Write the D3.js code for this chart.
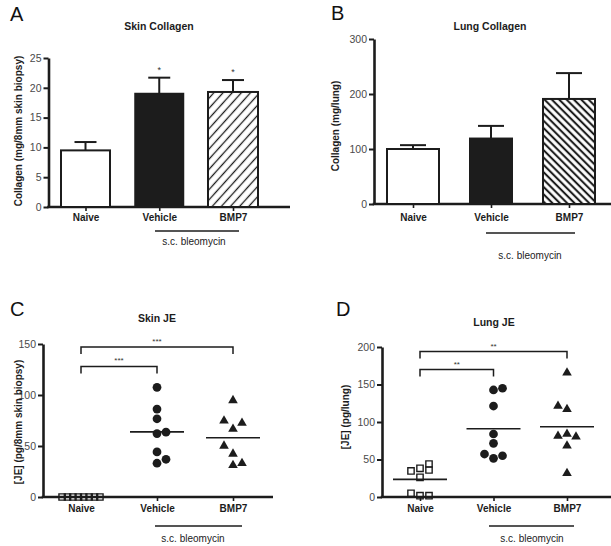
<!DOCTYPE html>
<html><head><meta charset="utf-8">
<script src="https://cdn.jsdelivr.net/npm/d3@7"></script>
<style>body{margin:0;background:#fff}svg{display:block}</style>
</head><body>
<svg id="c" width="611" height="546"></svg>
<script>
// ---------- data ----------
const groups = ["Naive", "Vehicle", "BMP7"];

const skinCollagenMean = [9.5, 19.0, 19.3];
const skinCollagenSem  = [1.4, 2.7, 2.0];
const skinCollagenSig  = ["", "*", "*"];
const skinCollagenTicks = [0, 5, 10, 15, 20, 25];

const lungCollagenMean = [100, 119, 191];
const lungCollagenSem  = [7, 23, 47];
const lungCollagenSig  = ["", "", ""];
const lungCollagenTicks = [0, 100, 200, 300];

const skinJENaive   = [0, 0, 0, 0, 0, 0, 0, 0];
const skinJEVehicle = [107.5, 86.2, 76.7, 63.6, 62.2, 44.2, 37, 33.1];
const skinJEBMP7    = [94.7, 74.7, 72.5, 66.6, 50.1, 42.3, 33.1, 31.2];
const skinJETicks   = [0, 50, 100, 150];
const skinJEBrackets = [
  {from: "Naive", to: "Vehicle", level: 128, label: "***"},
  {from: "Naive", to: "BMP7", level: 147, label: "***"}
];

const lungJENaive   = [44, 38.3, 36, 34.7, 26.3, 5, 1.7, 1.7];
const lungJEVehicle = [145, 142.7, 121.3, 84, 71.6, 57.3, 55, 51.6];
const lungJEBMP7    = [165.7, 121.3, 117, 84, 81.3, 80.4, 68.4, 31.6];
const lungJETicks   = [0, 50, 100, 150, 200];
const lungJEBrackets = [
  {from: "Naive", to: "Vehicle", level: 170, label: "**"},
  {from: "Naive", to: "BMP7", level: 194, label: "**"}
];

// swarm column of each point
const skinJENaiveSlot   = [-3.5, -2.5, -1.5, -0.5, 0.5, 1.5, 2.5, 3.5];
const skinJEVehicleSlot = [0, 0, 0, 1, 0, 0, 1, 0];
const skinJEBMP7Slot    = [0, -1, 1, 0, -1, 0, 1, 0];
const lungJENaiveSlot   = [1, 0, 1, -1, 0, -1, 0, 1];
const lungJEVehicleSlot = [1, 0, 0, 0, 0, -1, 1, 0];
const lungJEBMP7Slot    = [0, -1, 0, 0, -1, 1, 0, 0];

// ---------- drawing ----------
const svg = d3.select("#c");
const INK = "#1c1c1c";
const FONT = "'Liberation Sans', Arial, Helvetica, sans-serif";

const defs = svg.append("defs");
function hatch(id, spacing, sw, angle) {
  const p = defs.append("pattern").attr("id", id)
    .attr("patternUnits", "userSpaceOnUse")
    .attr("width", spacing).attr("height", spacing)
    .attr("patternTransform", `rotate(${angle})`);
  p.append("rect").attr("width", spacing).attr("height", spacing).attr("fill", "#fff");
  p.append("line").attr("x1", spacing / 2).attr("x2", spacing / 2)
    .attr("y1", 0).attr("y2", spacing)
    .attr("stroke", INK).attr("stroke-width", sw);
}
hatch("hatchA", 6.8, 1.3, 42);
hatch("hatchB", 5.2, 2.1, -45);

function text(g, x, y, s, opts = {}) {
  return g.append("text").attr("x", x).attr("y", y).text(s)
    .attr("font-family", FONT)
    .attr("font-size", opts.size || 10)
    .attr("font-weight", opts.weight || "normal")
    .attr("fill", opts.fill || INK)
    .attr("text-anchor", opts.anchor || "middle");
}

function frame(cfg) {
  const g = svg.append("g");
  const y = d3.scaleLinear().domain([0, d3.max(cfg.ticks)]).range([cfg.y0, cfg.y1]);
  const x = d3.scalePoint().domain(groups).range([cfg.xa, cfg.xb]);

  // y axis
  const ya = g.append("g").attr("transform", `translate(${cfg.axisX},0)`)
    .call(d3.axisLeft(y).tickValues(cfg.ticks).tickSize(5).tickSizeOuter(0).tickPadding(2).tickFormat(d3.format("d")));
  ya.select(".domain").attr("stroke", INK).attr("stroke-width", 2.6);
  ya.selectAll(".tick line").attr("stroke", INK).attr("stroke-width", 2);
  ya.selectAll(".tick text").attr("font-family", FONT).attr("font-size", 10.5).attr("fill", "#4a4a4a");

  // x axis
  const xa = g.append("g").attr("transform", `translate(0,${cfg.y0})`)
    .call(d3.axisBottom(x).tickSize(4).tickSizeOuter(0));
  xa.select(".domain").remove();
  xa.selectAll(".tick line").attr("stroke", INK).attr("stroke-width", 1.6);
  xa.selectAll(".tick text").attr("font-family", FONT).attr("font-size", 10)
    .attr("font-weight", "bold").attr("fill", INK)
    .attr("y", cfg.labelDy).attr("dy", 0);
  g.append("line").attr("x1", cfg.axisX - 1.3).attr("x2", cfg.axisEnd)
    .attr("y1", cfg.y0).attr("y2", cfg.y0).attr("stroke", INK).attr("stroke-width", 2.6);

  // titles and labels
  text(g, cfg.letterX, cfg.letterY, cfg.letter, {size: 20, anchor: "start", fill: "#111"});
  text(g, cfg.titleX, cfg.titleY, cfg.title, {size: 10.5, weight: "bold"});
  text(g, 0, 0, cfg.ylabel, {size: 10, weight: "bold"})
    .attr("transform", `translate(${cfg.ylabX},${cfg.ylabY}) rotate(-90)`);

  // bleomycin bar
  g.append("line").attr("x1", cfg.bleo[0]).attr("x2", cfg.bleo[1])
    .attr("y1", cfg.bleoY).attr("y2", cfg.bleoY).attr("stroke", INK).attr("stroke-width", 1.4);
  text(g, cfg.bleoTextX, cfg.bleoTextY, "s.c. bleomycin", {size: 10, fill: "#222"});
  return {g, x, y};
}

function barPanel(cfg) {
  const {g, x, y} = frame(cfg);
  const bars = g.append("g");
  groups.forEach((k, i) => {
    const w = cfg.widths[i], cx = x(k);
    const top = cfg.mean[i], err = cfg.mean[i] + cfg.sem[i];
    bars.append("line").attr("x1", cx).attr("x2", cx).attr("y1", y(top)).attr("y2", y(err))
      .attr("stroke", INK).attr("stroke-width", 2);
    bars.append("line").attr("x1", cx - cfg.cap / 2).attr("x2", cx + cfg.cap / 2)
      .attr("y1", y(err)).attr("y2", y(err)).attr("stroke", INK).attr("stroke-width", 2);
    bars.append("rect").attr("x", cx - w / 2).attr("y", y(top))
      .attr("width", w).attr("height", y(0) - y(top))
      .attr("fill", cfg.fills[i]).attr("stroke", INK).attr("stroke-width", 2);
    if (cfg.sig[i]) text(bars, cx, y(err) - 5, cfg.sig[i], {size: 9, fill: "#333"});
  });
}

function scatterPanel(cfg) {
  const {g, x, y} = frame(cfg);
  const series = [
    {k: "Naive", v: cfg.naive, s: cfg.naiveSlot, sym: d3.symbolSquare, size: 40, hollow: true, step: cfg.naiveStep},
    {k: "Vehicle", v: cfg.vehicle, s: cfg.vehicleSlot, sym: d3.symbolCircle, size: 60, hollow: false, step: 9},
    {k: "BMP7", v: cfg.bmp7, s: cfg.bmp7Slot, sym: d3.symbolTriangle, size: 40, hollow: false, step: 9}
  ];
  series.forEach(se => {
    const cx = x(se.k);
    const m = d3.mean(se.v);
    if (m > 0.5) {
      g.append("line").attr("x1", cx - 27).attr("x2", cx + 27)
        .attr("y1", y(m)).attr("y2", y(m)).attr("stroke", INK).attr("stroke-width", 1.6);
    }
    g.selectAll(null).data(se.v).enter().append("path")
      .attr("d", d3.symbol().type(se.sym).size(se.size))
      .attr("transform", (d, i) => `translate(${cx + se.s[i] * se.step},${y(d)})`)
      .attr("fill", se.hollow ? "none" : INK)
      .attr("stroke", INK).attr("stroke-width", se.hollow ? 1.4 : 0);
  });
  cfg.brackets.forEach(b => {
    const yy = y(b.level), x1 = x(b.from), x2 = x(b.to);
    g.append("path").attr("d", `M${x1},${yy + 7}V${yy}H${x2}V${yy + 7}`)
      .attr("fill", "none").attr("stroke", INK).attr("stroke-width", 1.5);
    text(g, (x1 + x2) / 2, yy - 3, b.label, {size: 8, fill: "#333"});
  });
}

barPanel({
  ticks: skinCollagenTicks, mean: skinCollagenMean, sem: skinCollagenSem, sig: skinCollagenSig,
  y0: 207, y1: 58, axisX: 48.5, axisEnd: 290, xa: 85.5, xb: 233, labelDy: 14,
  widths: [49, 48, 50], cap: 22, fills: ["#fff", INK, "url(#hatchA)"],
  letter: "A", letterX: 10, letterY: 21, title: "Skin Collagen", titleX: 159, titleY: 30,
  ylabel: "Collagen (mg/8mm skin biopsy)", ylabX: 22, ylabY: 131,
  bleo: [155, 239], bleoY: 231, bleoTextX: 194, bleoTextY: 245
});

barPanel({
  ticks: lungCollagenTicks, mean: lungCollagenMean, sem: lungCollagenSem, sig: lungCollagenSig,
  y0: 204, y1: 39, axisX: 374, axisEnd: 611, xa: 413, xb: 569, labelDy: 16.5,
  widths: [52, 42, 52], cap: 26, fills: ["#fff", INK, "url(#hatchB)"],
  letter: "B", letterX: 331, letterY: 20, title: "Lung Collagen", titleX: 490, titleY: 30,
  ylabel: "Collagen (mg/lung)", ylabX: 339, ylabY: 126,
  bleo: [486, 575], bleoY: 233, bleoTextX: 530, bleoTextY: 259
});

scatterPanel({
  ticks: skinJETicks, naive: skinJENaive, vehicle: skinJEVehicle, bmp7: skinJEBMP7,
  naiveSlot: skinJENaiveSlot, vehicleSlot: skinJEVehicleSlot, bmp7Slot: skinJEBMP7Slot, naiveStep: 5.4,
  brackets: skinJEBrackets,
  y0: 497, y1: 344, axisX: 43, axisEnd: 273, xa: 81, xb: 233, labelDy: 14.7,
  letter: "C", letterX: 10, letterY: 316, title: "Skin JE", titleX: 157, titleY: 322,
  ylabel: "[JE] (pg/8mm skin biopsy)", ylabX: 22, ylabY: 422,
  bleo: [155, 242], bleoY: 526, bleoTextX: 193, bleoTextY: 542
});

scatterPanel({
  ticks: lungJETicks, naive: lungJENaive, vehicle: lungJEVehicle, bmp7: lungJEBMP7,
  naiveSlot: lungJENaiveSlot, vehicleSlot: lungJEVehicleSlot, bmp7Slot: lungJEBMP7Slot, naiveStep: 9,
  brackets: lungJEBrackets,
  y0: 497, y1: 347, axisX: 382, axisEnd: 611, xa: 420, xb: 567, labelDy: 14.7,
  letter: "D", letterX: 336, letterY: 316, title: "Lung JE", titleX: 494, titleY: 326,
  ylabel: "[JE] (pg/lung)", ylabX: 349, ylabY: 417,
  bleo: [489, 574], bleoY: 526, bleoTextX: 532, bleoTextY: 542
});
</script>
</body></html>
